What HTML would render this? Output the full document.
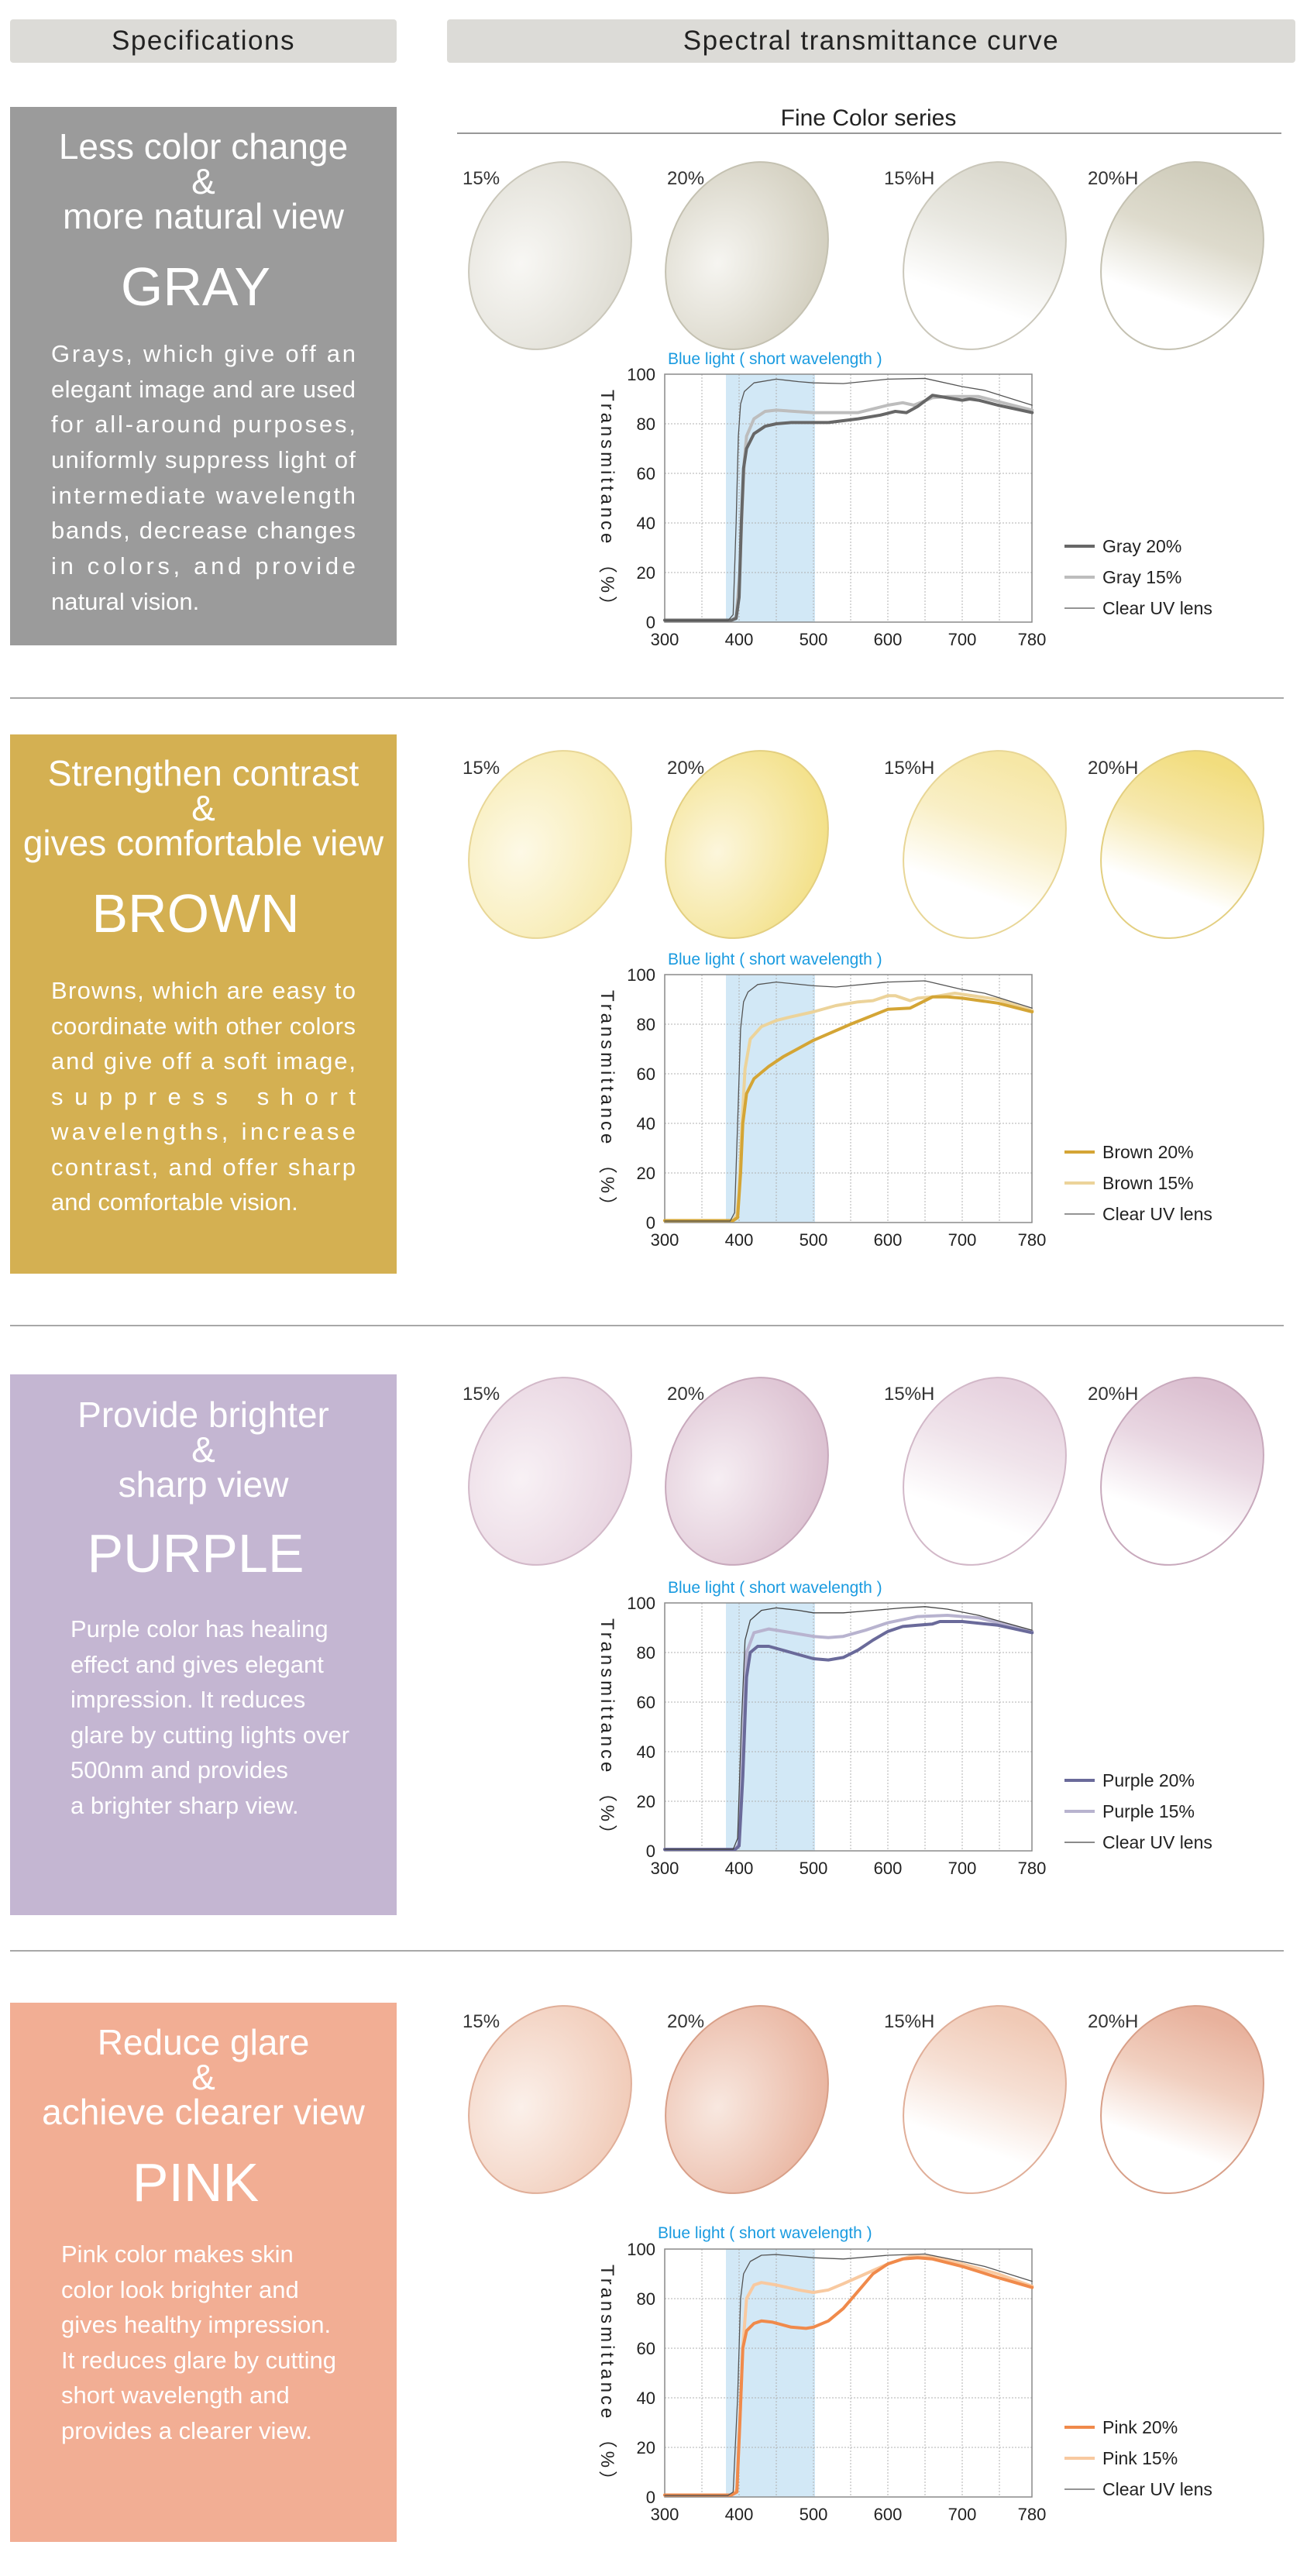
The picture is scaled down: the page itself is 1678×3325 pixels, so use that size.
<!DOCTYPE html>
<html><head><meta charset="utf-8">
<style>
html,body{margin:0;padding:0;background:#fff;}
body{width:1678px;height:3325px;position:relative;overflow:hidden;font-family:"Liberation Sans",sans-serif;}
.hdr{position:absolute;top:25px;height:56px;background:#dcdbd7;border-radius:4px;color:#222;font-size:35px;letter-spacing:1.5px;line-height:56px;text-align:center;}
.box{position:absolute;left:13px;width:499px;color:#fff;}
.t{position:absolute;left:0;width:499px;text-align:center;font-size:46px;line-height:45px;}
.n{position:absolute;left:0;width:499px;text-align:center;font-size:70px;line-height:80px;}
.p{position:absolute;font-size:31px;line-height:45.6px;white-space:nowrap;}
.sep{position:absolute;left:13px;width:1644px;height:2px;background:#a8a8a8;}
</style></head><body>
<div class="hdr" style="left:13px;width:499px;">Specifications</div>
<div class="hdr" style="left:577px;width:1095px;">Spectral transmittance curve</div>

<div class="box" style="top:138px;height:695px;background:#9b9b9b;">
 <div class="t" style="top:29px;">Less color change<br>&amp;<br>more natural view</div>
 <div class="n" style="top:192px;padding-right:20px;box-sizing:border-box;">GRAY</div>
</div>
<div class="sep" style="top:900px;"></div>

<div class="box" style="top:948px;height:696px;background:#d4b052;">
 <div class="t" style="top:28px;">Strengthen contrast<br>&amp;<br>gives comfortable view</div>
 <div class="n" style="top:191px;padding-right:20px;box-sizing:border-box;">BROWN</div>
</div>
<div class="sep" style="top:1710px;"></div>

<div class="box" style="top:1774px;height:698px;background:#c4b6d2;">
 <div class="t" style="top:30px;">Provide brighter<br>&amp;<br>sharp view</div>
 <div class="n" style="top:191px;padding-right:20px;box-sizing:border-box;">PURPLE</div>
 <div class="p" style="left:78px;top:306px;">Purple color has healing<br>effect and gives elegant<br>impression. It reduces<br>glare by cutting lights over<br>500nm and provides<br>a brighter sharp view.</div>
</div>
<div class="sep" style="top:2517px;"></div>

<div class="box" style="top:2585px;height:696px;background:#f2ae94;">
 <div class="t" style="top:29px;">Reduce glare<br>&amp;<br>achieve clearer view</div>
 <div class="n" style="top:192px;padding-right:20px;box-sizing:border-box;">PINK</div>
 <div class="p" style="left:66px;top:302px;">Pink color makes skin<br>color look brighter and<br>gives healthy impression.<br>It reduces glare by cutting<br>short wavelength and<br>provides a clearer view.</div>
</div>

<svg width="1678" height="3325" style="position:absolute;left:0;top:0;" xmlns="http://www.w3.org/2000/svg" font-family="Liberation Sans, sans-serif">
<defs>
 <radialGradient id="g15" cx="0.35" cy="0.6" r="0.75"><stop offset="0" stop-color="#f8f7f4"/><stop offset="1" stop-color="#dcdad0"/></radialGradient>
 <radialGradient id="g20" cx="0.35" cy="0.6" r="0.75"><stop offset="0" stop-color="#f6f5f1"/><stop offset="1" stop-color="#cfcbba"/></radialGradient>
 <linearGradient id="gh15" x1="0.45" y1="0.05" x2="0.5" y2="0.75"><stop offset="0" stop-color="#dad8cd"/><stop offset="0.5" stop-color="#e9e8e1"/><stop offset="1" stop-color="#ffffff"/></linearGradient>
 <linearGradient id="gh20" x1="0.45" y1="0.05" x2="0.5" y2="0.75"><stop offset="0" stop-color="#cfccbb"/><stop offset="0.5" stop-color="#dedbcd"/><stop offset="1" stop-color="#ffffff"/></linearGradient>

 <radialGradient id="y15" cx="0.35" cy="0.6" r="0.75"><stop offset="0" stop-color="#fdf9e6"/><stop offset="1" stop-color="#f6e8a6"/></radialGradient>
 <radialGradient id="y20" cx="0.35" cy="0.6" r="0.75"><stop offset="0" stop-color="#fcf6dc"/><stop offset="1" stop-color="#f2de7f"/></radialGradient>
 <linearGradient id="yh15" x1="0.45" y1="0.05" x2="0.5" y2="0.75"><stop offset="0" stop-color="#f6e7a6"/><stop offset="0.5" stop-color="#f9efc6"/><stop offset="1" stop-color="#ffffff"/></linearGradient>
 <linearGradient id="yh20" x1="0.45" y1="0.05" x2="0.5" y2="0.75"><stop offset="0" stop-color="#f2dd7e"/><stop offset="0.5" stop-color="#f6e8ad"/><stop offset="1" stop-color="#ffffff"/></linearGradient>

 <radialGradient id="p15" cx="0.35" cy="0.6" r="0.75"><stop offset="0" stop-color="#f8f1f5"/><stop offset="1" stop-color="#e6d1de"/></radialGradient>
 <radialGradient id="p20" cx="0.35" cy="0.6" r="0.75"><stop offset="0" stop-color="#f6eef3"/><stop offset="1" stop-color="#d9bccd"/></radialGradient>
 <linearGradient id="ph15" x1="0.45" y1="0.05" x2="0.5" y2="0.75"><stop offset="0" stop-color="#e6d1de"/><stop offset="0.5" stop-color="#f0e4eb"/><stop offset="1" stop-color="#ffffff"/></linearGradient>
 <linearGradient id="ph20" x1="0.45" y1="0.05" x2="0.5" y2="0.75"><stop offset="0" stop-color="#dbbfd0"/><stop offset="0.5" stop-color="#e9d7e2"/><stop offset="1" stop-color="#ffffff"/></linearGradient>

 <radialGradient id="k15" cx="0.35" cy="0.6" r="0.75"><stop offset="0" stop-color="#fbf0ea"/><stop offset="1" stop-color="#f0c8b4"/></radialGradient>
 <radialGradient id="k20" cx="0.35" cy="0.6" r="0.75"><stop offset="0" stop-color="#f8e8e0"/><stop offset="1" stop-color="#e8b09a"/></radialGradient>
 <linearGradient id="kh15" x1="0.45" y1="0.05" x2="0.5" y2="0.75"><stop offset="0" stop-color="#f0c9b5"/><stop offset="0.5" stop-color="#f6dfd3"/><stop offset="1" stop-color="#ffffff"/></linearGradient>
 <linearGradient id="kh20" x1="0.45" y1="0.05" x2="0.5" y2="0.75"><stop offset="0" stop-color="#e8b19c"/><stop offset="0.5" stop-color="#f1cfbf"/><stop offset="1" stop-color="#ffffff"/></linearGradient>

 <g id="grid">
  <rect x="937" y="0" width="115" height="320" fill="#d2e8f6"/>
  <g stroke="#b0b0b0" stroke-width="1" stroke-dasharray="2,2">
   <line x1="858" y1="64" x2="1332" y2="64"/><line x1="858" y1="128" x2="1332" y2="128"/>
   <line x1="858" y1="192" x2="1332" y2="192"/><line x1="858" y1="256" x2="1332" y2="256"/>
   <line x1="906" y1="0" x2="906" y2="320"/><line x1="954" y1="0" x2="954" y2="320"/>
   <line x1="1002" y1="0" x2="1002" y2="320"/><line x1="1050" y1="0" x2="1050" y2="320"/>
   <line x1="1098" y1="0" x2="1098" y2="320"/><line x1="1146" y1="0" x2="1146" y2="320"/>
   <line x1="1194" y1="0" x2="1194" y2="320"/><line x1="1242" y1="0" x2="1242" y2="320"/>
   <line x1="1290" y1="0" x2="1290" y2="320"/>
  </g>
  <rect x="858" y="0" width="474" height="320" fill="none" stroke="#8a8a8a" stroke-width="1.5"/>
  <g font-size="22" fill="#222" text-anchor="end">
   <text x="846" y="328">0</text><text x="846" y="264">20</text><text x="846" y="200">40</text>
   <text x="846" y="136">60</text><text x="846" y="72">80</text><text x="846" y="8">100</text>
  </g>
  <g font-size="22" fill="#222" text-anchor="middle">
   <text x="858" y="350">300</text><text x="954" y="350">400</text><text x="1050" y="350">500</text>
   <text x="1146" y="350">600</text><text x="1242" y="350">700</text><text x="1332" y="350">780</text>
  </g>
  <text transform="translate(776,20) rotate(90)" font-size="24" fill="#222" textLength="290" lengthAdjust="spacing">Transmittance （%）</text>
 </g>
</defs>

<!-- justified paragraphs -->
<g font-size="31" fill="#fff">
 <text x="66" y="467" textLength="393" lengthAdjust="spacing">Grays, which give off an</text>
 <text x="66" y="513" textLength="393" lengthAdjust="spacing">elegant image and are used</text>
 <text x="66" y="558" textLength="393" lengthAdjust="spacing">for all-around purposes,</text>
 <text x="66" y="604" textLength="393" lengthAdjust="spacing">uniformly suppress light of</text>
 <text x="66" y="650" textLength="393" lengthAdjust="spacing">intermediate wavelength</text>
 <text x="66" y="695" textLength="393" lengthAdjust="spacing">bands, decrease changes</text>
 <text x="66" y="741" textLength="393" lengthAdjust="spacing">in colors, and provide</text>
 <text x="66" y="787">natural vision.</text>

 <text x="66" y="1289" textLength="393" lengthAdjust="spacing">Browns, which are easy to</text>
 <text x="66" y="1335" textLength="393" lengthAdjust="spacing">coordinate with other colors</text>
 <text x="66" y="1380" textLength="393" lengthAdjust="spacing">and give off a soft image,</text>
 <text x="66" y="1426" textLength="393" lengthAdjust="spacing">suppress short</text>
 <text x="66" y="1471" textLength="393" lengthAdjust="spacing">wavelengths, increase</text>
 <text x="66" y="1517" textLength="393" lengthAdjust="spacing">contrast, and offer sharp</text>
 <text x="66" y="1562">and comfortable vision.</text>
</g>

<text x="1121" y="162" font-size="30" fill="#222" text-anchor="middle">Fine Color series</text>
<line x1="590" y1="172" x2="1654" y2="172" stroke="#777" stroke-width="1.5"/>

<!-- lenses -->
<g font-size="24" fill="#333">
 <text x="597" y="238">15%</text><text x="861" y="238">20%</text><text x="1141" y="238">15%H</text><text x="1404" y="238">20%H</text>
 <text x="597" y="999">15%</text><text x="861" y="999">20%</text><text x="1141" y="999">15%H</text><text x="1404" y="999">20%H</text>
 <text x="597" y="1807">15%</text><text x="861" y="1807">20%</text><text x="1141" y="1807">15%H</text><text x="1404" y="1807">20%H</text>
 <text x="597" y="2617">15%</text><text x="861" y="2617">20%</text><text x="1141" y="2617">15%H</text><text x="1404" y="2617">20%H</text>
</g>
<g stroke-width="2">
 <ellipse transform="translate(710,330) rotate(25)" rx="100" ry="125" fill="url(#g15)" stroke="#cac7ba"/>
 <ellipse transform="translate(964,330) rotate(25)" rx="100" ry="125" fill="url(#g20)" stroke="#c4c1b1"/>
 <ellipse transform="translate(1271,330) rotate(25)" rx="100" ry="125" fill="url(#gh15)" stroke="#cac7ba"/>
 <ellipse transform="translate(1526,330) rotate(25)" rx="100" ry="125" fill="url(#gh20)" stroke="#c4c1b1"/>

 <ellipse transform="translate(710,1090) rotate(25)" rx="100" ry="125" fill="url(#y15)" stroke="#e8d696"/>
 <ellipse transform="translate(964,1090) rotate(25)" rx="100" ry="125" fill="url(#y20)" stroke="#e3cf80"/>
 <ellipse transform="translate(1271,1090) rotate(25)" rx="100" ry="125" fill="url(#yh15)" stroke="#e8d696"/>
 <ellipse transform="translate(1526,1090) rotate(25)" rx="100" ry="125" fill="url(#yh20)" stroke="#e3cf80"/>

 <ellipse transform="translate(710,1899) rotate(25)" rx="100" ry="125" fill="url(#p15)" stroke="#d2b8c8"/>
 <ellipse transform="translate(964,1899) rotate(25)" rx="100" ry="125" fill="url(#p20)" stroke="#c8a9bc"/>
 <ellipse transform="translate(1271,1899) rotate(25)" rx="100" ry="125" fill="url(#ph15)" stroke="#d2b8c8"/>
 <ellipse transform="translate(1526,1899) rotate(25)" rx="100" ry="125" fill="url(#ph20)" stroke="#c8a9bc"/>

 <ellipse transform="translate(710,2710) rotate(25)" rx="100" ry="125" fill="url(#k15)" stroke="#e0ae98"/>
 <ellipse transform="translate(964,2710) rotate(25)" rx="100" ry="125" fill="url(#k20)" stroke="#d89f88"/>
 <ellipse transform="translate(1271,2710) rotate(25)" rx="100" ry="125" fill="url(#kh15)" stroke="#e0ae98"/>
 <ellipse transform="translate(1526,2710) rotate(25)" rx="100" ry="125" fill="url(#kh20)" stroke="#d89f88"/>
</g>

<!-- Chart 1 GRAY -->
<g transform="translate(0,483)">
 <use href="#grid"/>
 <text x="862" y="-13" font-size="21" fill="#1a9be0">Blue light ( short wavelength )</text>
 <g transform="translate(858,320) scale(0.96,-3.2) translate(-300,0)" fill="none" stroke-linejoin="round" stroke-linecap="round">
  <polyline vector-effect="non-scaling-stroke" stroke="#bdbdbd" stroke-width="4" points="300,0.8 390,0.8 396,2 401,20 404,45 407,65 410,75 420,82 435,85 450,85.5 500,84.5 560,84.5 580,86 600,87.5 620,88.5 635,87.5 660,90.5 680,91 722,91 748,89 794,85.5"/>
  <polyline vector-effect="non-scaling-stroke" stroke="#676767" stroke-width="4" points="300,0.8 390,0.8 396,1.5 400,10 403,40 406,62 410,70 420,76 435,79 450,80 470,80.5 520,80.5 560,82 590,83.5 610,85 625,84.5 640,87 660,91.5 680,90.5 700,89.5 710,90 722,89.5 748,87.5 794,84.5"/>
  <polyline vector-effect="non-scaling-stroke" stroke="#555" stroke-width="1.3" points="300,0.6 385,0.6 392,3 396,40 399,75 402,88 407,93 420,96.5 450,98 480,97 500,96.5 540,96.2 600,98 650,98.3 700,95 730,93.5 794,87.5"/>
 </g>
 <g font-size="23" fill="#222">
  <line x1="1374" y1="222" x2="1413" y2="222" stroke="#676767" stroke-width="4"/><text x="1423" y="230">Gray 20%</text>
  <line x1="1374" y1="262" x2="1413" y2="262" stroke="#bdbdbd" stroke-width="4"/><text x="1423" y="270">Gray 15%</text>
  <line x1="1374" y1="302" x2="1413" y2="302" stroke="#555" stroke-width="1.3"/><text x="1423" y="310">Clear UV lens</text>
 </g>
</g>

<!-- Chart 2 BROWN -->
<g transform="translate(0,1258)">
 <use href="#grid"/>
 <text x="862" y="-13" font-size="21" fill="#1a9be0">Blue light ( short wavelength )</text>
 <g transform="translate(858,320) scale(0.96,-3.2) translate(-300,0)" fill="none" stroke-linejoin="round" stroke-linecap="round">
  <polyline vector-effect="non-scaling-stroke" stroke="#ecd39a" stroke-width="4" points="300,0.8 392,0.8 397,3 400,12 404,40 408,62 415,74 430,79 450,81.5 470,83 500,85 530,87.5 560,89 580,89.5 600,91.5 610,91.5 630,89.5 640,90.5 660,91 690,92.5 748,90 794,85.5"/>
  <polyline vector-effect="non-scaling-stroke" stroke="#d4a535" stroke-width="4" points="300,0.8 392,0.8 398,2 402,20 405,40 410,52 420,58 440,63 460,67 500,73.5 550,80 600,86 630,86.5 660,91 680,91 700,90.5 748,88.5 794,85"/>
  <polyline vector-effect="non-scaling-stroke" stroke="#555" stroke-width="1.3" points="300,0.6 388,0.6 394,4 398,40 402,78 406,89 412,93 425,96 450,97 500,95.5 530,95 600,97 650,97.5 700,94 730,92.5 794,86.5"/>
 </g>
 <g font-size="23" fill="#222">
  <line x1="1374" y1="229" x2="1413" y2="229" stroke="#d4a535" stroke-width="4"/><text x="1423" y="237">Brown 20%</text>
  <line x1="1374" y1="269" x2="1413" y2="269" stroke="#ecd39a" stroke-width="4"/><text x="1423" y="277">Brown 15%</text>
  <line x1="1374" y1="309" x2="1413" y2="309" stroke="#555" stroke-width="1.3"/><text x="1423" y="317">Clear UV lens</text>
 </g>
</g>

<!-- Chart 3 PURPLE -->
<g transform="translate(0,2069)">
 <use href="#grid"/>
 <text x="862" y="-13" font-size="21" fill="#1a9be0">Blue light ( short wavelength )</text>
 <g transform="translate(858,320) scale(0.96,-3.2) translate(-300,0)" fill="none" stroke-linejoin="round" stroke-linecap="round">
  <polyline vector-effect="non-scaling-stroke" stroke="#b8b3cf" stroke-width="4" points="300,0.6 395,0.6 400,3 405,40 410,80 420,88 440,89.5 470,88 500,86.5 520,86 540,86.5 570,89 600,92 640,94.5 680,95 722,94 794,88.5"/>
  <polyline vector-effect="non-scaling-stroke" stroke="#6a6a9a" stroke-width="4" points="300,0.6 395,0.6 400,2 405,30 410,70 415,80 425,82.5 440,82.5 470,80 500,77.5 520,77 540,78 560,81 580,85 600,88.5 620,90.5 640,91 660,91.5 670,92.5 700,92.5 748,91 794,88"/>
  <polyline vector-effect="non-scaling-stroke" stroke="#444" stroke-width="1.3" points="300,0.6 392,0.6 398,5 403,50 408,85 415,93 430,97 450,98 480,97 500,96 540,96 580,97 620,98 650,98.5 680,97.5 722,95 794,89"/>
 </g>
 <g font-size="23" fill="#222">
  <line x1="1374" y1="229" x2="1413" y2="229" stroke="#6a6a9a" stroke-width="4"/><text x="1423" y="237">Purple 20%</text>
  <line x1="1374" y1="269" x2="1413" y2="269" stroke="#b8b3cf" stroke-width="4"/><text x="1423" y="277">Purple 15%</text>
  <line x1="1374" y1="309" x2="1413" y2="309" stroke="#444" stroke-width="1.3"/><text x="1423" y="317">Clear UV lens</text>
 </g>
</g>

<!-- Chart 4 PINK -->
<g transform="translate(0,2903)">
 <use href="#grid"/>
 <text x="849" y="-14" font-size="21" fill="#1a9be0">Blue light ( short wavelength )</text>
 <g transform="translate(858,320) scale(0.96,-3.2) translate(-300,0)" fill="none" stroke-linejoin="round" stroke-linecap="round">
  <polyline vector-effect="non-scaling-stroke" stroke="#f8c9a0" stroke-width="4" points="300,0.8 390,0.8 397,3 401,30 405,60 410,80 420,85.5 430,86.5 450,85.5 480,83.5 500,82.5 520,83.5 540,86 570,90 600,94 630,97 660,97 700,94 748,90 794,85"/>
  <polyline vector-effect="non-scaling-stroke" stroke="#f08a4b" stroke-width="4" points="300,0.8 390,0.8 397,2 401,30 405,60 410,67 420,70 430,71 445,70.5 470,68.5 490,68 500,68.5 520,71 540,76 560,83 580,90 600,94 620,96 640,96.5 660,96 700,93 748,88.5 794,84.5"/>
  <polyline vector-effect="non-scaling-stroke" stroke="#555" stroke-width="1.3" points="300,0.6 385,0.6 392,2 398,40 402,80 406,90 415,95 430,97.5 450,97.8 500,96.5 540,96 600,97.5 650,98 700,95 730,93 794,87"/>
 </g>
 <g font-size="23" fill="#222">
  <line x1="1374" y1="230" x2="1413" y2="230" stroke="#f08a4b" stroke-width="4"/><text x="1423" y="238">Pink 20%</text>
  <line x1="1374" y1="270" x2="1413" y2="270" stroke="#f8c9a0" stroke-width="4"/><text x="1423" y="278">Pink 15%</text>
  <line x1="1374" y1="310" x2="1413" y2="310" stroke="#555" stroke-width="1.3"/><text x="1423" y="318">Clear UV lens</text>
 </g>
</g>
</svg>
</body></html>
